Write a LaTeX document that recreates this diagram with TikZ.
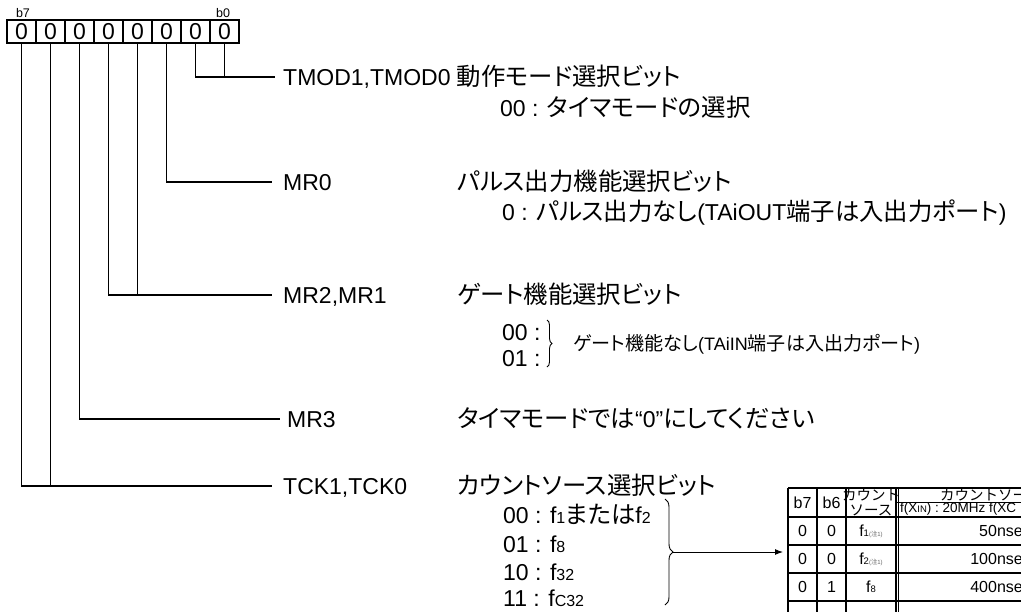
\documentclass[tikz,border=0pt]{standalone}
\usepackage{fontspec}
\setmainfont{Liberation Sans}
\newfontfamily\jp[Scale=1.06,RawFeature=+palt]{Noto Sans CJK JP}
\newfontfamily\jpn[Scale=1.0]{Noto Sans CJK JP}
\usetikzlibrary{arrows.meta,decorations.pathreplacing}
\newcommand\J[1]{{\jp #1}}
\newcommand\lo[1]{{\fontsize{16}{16}\selectfont #1}}
\newcommand\tlo[1]{{\fontsize{9.5}{9.5}\selectfont #1}}
\newcommand\note{{\fontsize{6}{6}\selectfont\color{black!60}(\J{注}1)}}
\begin{document}
\begin{tikzpicture}[x=1pt,y=-1pt,
  big/.style={font=\fontsize{23}{26}\selectfont, inner sep=0pt, anchor=west, text height=16.5pt, text depth=0pt},
  mid/.style={font=\fontsize{18}{20}\selectfont, inner sep=0pt, anchor=west, text height=13pt, text depth=0pt},
  cell/.style={draw, line width=1.3pt, minimum width=29pt, minimum height=23pt, inner sep=0pt, font=\fontsize{23}{23}\selectfont},
  lead/.style={line width=1.2pt},
  tbl/.style={line width=1.2pt},
  tt/.style={font=\fontsize{16}{18}\selectfont, inner sep=0pt},
  th/.style={font=\fontsize{14.5}{16}\selectfont\jpn, inner sep=0pt}]
\path[use as bounding box] (0,0) rectangle (1021,611);
\begin{scope}
\clip (0,0) rectangle (1021,611);
% register
\foreach \i in {0,...,7} {
  \node[cell] (c\i) at ({7+29*(7-\i)+14.5},31.5) {0};
}
\node[font=\fontsize{12.5}{12.5}\selectfont, inner sep=0pt] (lb7) at (23,13) {b7};
\node[font=\fontsize{12.5}{12.5}\selectfont, inner sep=0pt] (lb0) at (223,13) {b0};
% labels
\node[big] (tmod) at (283,77) {TMOD1,TMOD0 \J{動作モード選択ビット}};
\node[big] (tmodv) at (500,108) {00 : \J{タイマモードの選択}};
\node[big] (mr0) at (283,182) {MR0};
\node[big] (mr0t) at (457,182) {\J{パルス出力機能選択ビット}};
\node[big] (mr0v) at (502,212) {0 : \J{パルス出力なし}(TAiOUT\J{端子は入出力ポート})};
\node[big] (mr21) at (283,295) {MR2,MR1};
\node[big] (mr21t) at (457,295) {\J{ゲート機能選択ビット}};
\node[big] (g00) at (502,332) {00 :};
\node[big] (g01) at (502,358) {01 :};
\node[mid] (gnote) at (573,344) {\J{ゲート機能なし}(TAiIN\J{端子は入出力ポート})};
\node[big] (mr3) at (287,419) {MR3};
\node[big] (mr3t) at (457,419) {\J{タイマモードでは}“0”\J{にしてください}};
\node[big] (tck) at (283,486) {TCK1,TCK0};
\node[big] (tckt) at (457,486) {\J{カウントソース選択ビット}};
\node[big] (s00) at (503,515) {00 : f\lo{1}\J{または}f\lo{2}};
\node[big] (s01) at (503,544) {01 : f\lo{8}};
\node[big] (s10) at (503,572) {10 : f\lo{32}};
\node[big] (s11) at (503,598) {11 : f\lo{C32}};
% leader lines
\draw[lead] (c1.south) |- ([xshift=-8pt]tmod.west);
\draw[lead] (c0.south) -- (c0.south |- tmod.west);
\draw[lead] (c2.south) |- ([xshift=-11pt]mr0.west);
\draw[lead] (c4.south) |- ([xshift=-11pt]mr21.west);
\draw[lead] (c3.south) -- (c3.south |- mr21.west);
\draw[lead] (c5.south) |- ([xshift=-7pt]mr3.west);
\draw[lead] (c7.south) |- ([xshift=-11pt]tck.west);
\draw[lead] (c6.south) -- (c6.south |- tck.west);
% braces
\draw[line width=0.9pt, decorate, decoration={brace, amplitude=5pt}] (547,320) -- (547,367);
\draw[line width=0.9pt, decorate, decoration={brace, amplitude=8pt}] (665,499) -- (665,605);
\coordinate (btip) at (673,552);
\coordinate (tin) at (783,552);
\draw[line width=1pt, -{Latex[length=8pt,width=6pt]}] (btip) -- (tin);
% table
\draw[tbl] (788,488) -- (1030,488);
\draw[tbl] (788,517) -- (1030,517);
\draw[tbl] (788,545) -- (1030,545);
\draw[tbl] (788,573) -- (1030,573);
\draw[tbl] (788,601) -- (1030,601);
\draw[line width=0.8pt] (896,502) -- (1030,502);
\foreach \xx in {788,817,846,896} { \draw[tbl] (\xx,488) -- (\xx,615); }
\draw[line width=0.8pt] (898,488) -- (898,615);
\node[tt] (h7) at (802.5,503) {b7};
\node[tt] (h6) at (831.5,503) {b6};
\node[th] (hc1) at (871,495) {カウント};
\node[th] (hc2) at (871,510) {ソース};
\node[th, anchor=west] (hp) at (940,495) {カウントソース};
\node[font=\fontsize{13.5}{15}\selectfont, inner sep=0pt, anchor=west] (hf) at (900,509) {f(X\tlo{IN}) : 20MHz f(XC};
\node[tt] (r1a) at (802.5,531) {0};
\node[tt] (r1b) at (831.5,531) {0};
\node[tt] (r1c) at (871,531) {f\tlo{1}\note};
\node[tt, anchor=east] (r1d) at (1031,531) {50nsec};
\node[tt] (r2a) at (802.5,559) {0};
\node[tt] (r2b) at (831.5,559) {0};
\node[tt] (r2c) at (871,559) {f\tlo{2}\note};
\node[tt, anchor=east] (r2d) at (1031,559) {100nsec};
\node[tt] (r3a) at (802.5,587) {0};
\node[tt] (r3b) at (831.5,587) {1};
\node[tt] (r3c) at (871,587) {f\tlo{8}};
\node[tt, anchor=east] (r3d) at (1031,587) {400nsec};
\end{scope}
\end{tikzpicture}
\end{document}
